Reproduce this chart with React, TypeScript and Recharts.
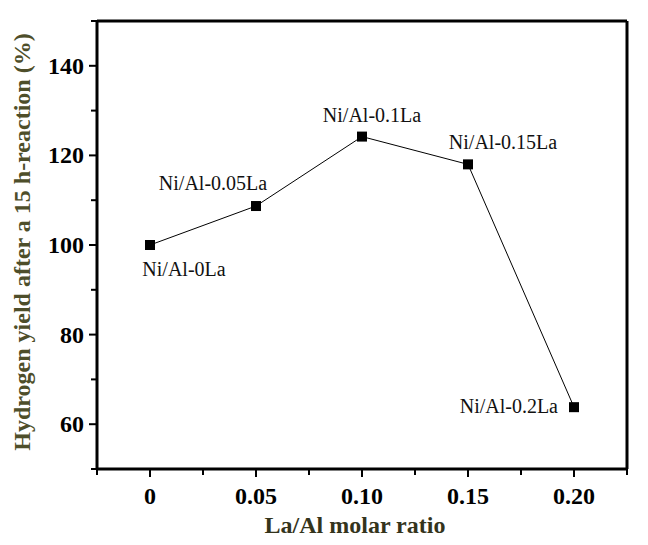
import { LineChart, Line, XAxis, YAxis, LabelList } from "recharts";

const ratios = [0, 0.05, 0.1, 0.15, 0.2];
const yields = [100, 108.7, 124.2, 118, 63.8];
const sampleNames = ["Ni/Al-0La", "Ni/Al-0.05La", "Ni/Al-0.1La", "Ni/Al-0.15La", "Ni/Al-0.2La"];

const xTicks = [-0.025, 0, 0.025, 0.05, 0.075, 0.1, 0.125, 0.15, 0.175, 0.2, 0.225];
const xMajor = [0, 0.05, 0.1, 0.15, 0.2];
const xTickLabels = ["0", "0.05", "0.10", "0.15", "0.20"];
const yTicks = [50, 60, 70, 80, 90, 100, 110, 120, 130, 140, 150];
const yMajor = [60, 80, 100, 120, 140];

// label placement around each point (dx, dy, anchor)
const labelPos = [
  { dx: 34, dy: 31, anchor: "middle" },
  { dx: -43, dy: -16, anchor: "middle" },
  { dx: 10, dy: -15, anchor: "middle" },
  { dx: 35, dy: -15, anchor: "middle" },
  { dx: -16, dy: 6, anchor: "end" },
];

const data = ratios.map((r, i) => ({ ratio: r, yield: yields[i], name: sampleNames[i] }));

const serif = '"Liberation Serif", "Times New Roman", serif';

const BottomTick = (props: any) => {
  const { x, y, payload } = props;
  const v = payload.value;
  const idx = xMajor.findIndex((m) => Math.abs(m - v) < 1e-9);
  const major = idx >= 0;
  return (
    <g>
      <line x1={x} x2={x} y1={y} y2={y + (major ? 8 : 6)} stroke="#000" strokeWidth={2} />
      {major && (
        <text x={x} y={y + 35} textAnchor="middle" fontFamily={serif} fontWeight="bold" fontSize={24} fill="#000">
          {xTickLabels[idx]}
        </text>
      )}
    </g>
  );
};

const LeftTick = (props: any) => {
  const { x, y, payload } = props;
  const v = payload.value;
  const major = yMajor.includes(v);
  return (
    <g>
      <line x1={x} x2={x - (major ? 8 : 6)} y1={y} y2={y} stroke="#000" strokeWidth={2} />
      {major && (
        <text x={x - 13} y={y + 8} textAnchor="end" fontFamily={serif} fontWeight="bold" fontSize={24} fill="#000">
          {v}
        </text>
      )}
    </g>
  );
};

const Square = (props: any) => {
  const { cx, cy } = props;
  if (cx == null || cy == null) return null;
  return <rect x={cx - 5} y={cy - 5} width={10} height={10} fill="#000" />;
};

const PointLabel = (props: any) => {
  const { x, y, index, value } = props;
  const p = labelPos[index];
  return (
    <text x={x + p.dx} y={y + p.dy} textAnchor={p.anchor} fontFamily={serif} fontSize={20} fill="#111">
      {value}
    </text>
  );
};

export default function App() {
  return (
    <div style={{ width: 648, height: 545, position: "relative", margin: -8, background: "#fff" }}>
      <LineChart width={648} height={545} data={data} margin={{ top: 20, right: 20, left: 0, bottom: 0 }}>
        <XAxis
          dataKey="ratio"
          type="number"
          domain={[-0.025, 0.225]}
          ticks={xTicks}
          interval={0}
          tickSize={0}
          tickMargin={0}
          tickLine={false}
          tick={<BottomTick />}
          axisLine={{ stroke: "#000", strokeWidth: 3 }}
          height={76}
          allowDataOverflow
        />
        <XAxis
          xAxisId="top"
          dataKey="ratio"
          type="number"
          orientation="top"
          domain={[-0.025, 0.225]}
          tick={false}
          tickLine={false}
          axisLine={{ stroke: "#000", strokeWidth: 3 }}
          height={1}
        />
        <YAxis
          type="number"
          domain={[50, 150]}
          ticks={yTicks}
          interval={0}
          tickSize={0}
          tickMargin={0}
          tickLine={false}
          tick={<LeftTick />}
          axisLine={{ stroke: "#000", strokeWidth: 3 }}
          width={97}
          allowDataOverflow
        />
        <YAxis
          yAxisId="right"
          type="number"
          orientation="right"
          domain={[50, 150]}
          tick={false}
          tickLine={false}
          axisLine={{ stroke: "#000", strokeWidth: 3 }}
          width={1}
        />
        <Line
          dataKey="yield"
          stroke="#000"
          strokeWidth={1}
          dot={<Square />}
          activeDot={false}
          isAnimationActive={false}
        >
          <LabelList dataKey="name" content={<PointLabel />} />
        </Line>
      </LineChart>
      <svg
        width={648}
        height={545}
        style={{ position: "absolute", left: 0, top: 0, pointerEvents: "none" }}
      >
        <text x={355} y={533} textAnchor="middle" fontFamily={serif} fontWeight="bold" fontSize={24} fill="#34341c">
          La/Al molar ratio
        </text>
        <text
          x={30}
          y={242}
          transform="rotate(-90 30 242)"
          textAnchor="middle"
          fontFamily={serif}
          fontWeight="bold"
          fontSize={24}
          fill="#4e4e2a"
        >
          Hydrogen yield after a 15 h-reaction (%)
        </text>
      </svg>
    </div>
  );
}
